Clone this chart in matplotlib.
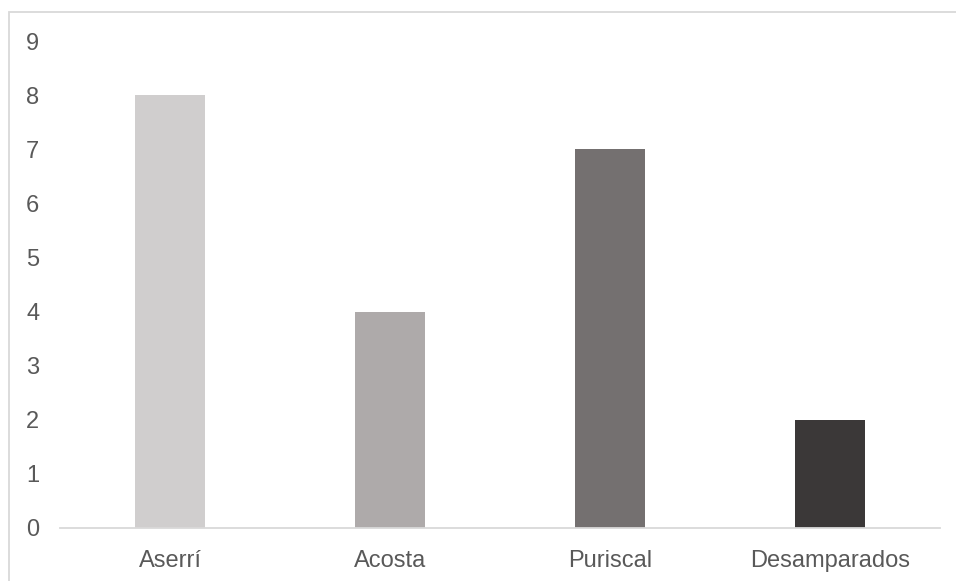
import matplotlib
matplotlib.use("Agg")
import matplotlib.pyplot as plt
from matplotlib.patches import Rectangle

categories = ["Aserrí", "Acosta", "Puriscal", "Desamparados"]
values = [8, 4, 7, 2]
colors = ["#D0CECE", "#AEAAAA", "#747070", "#3B3838"]
yticks = list(range(0, 10))

plt.rcParams['font.family'] = ['Liberation Sans', 'DejaVu Sans']

W, H = 956, 581
fig = plt.figure(figsize=(W / 100, H / 100), dpi=100)
fig.patch.set_facecolor("white")

# outer chart border (cropped at right/bottom)
fig.patches.append(Rectangle((8.5 / W, -0.05), 1.2, 1 - 11.5 / H + 0.05,
                             transform=fig.transFigure, fill=False,
                             edgecolor="#D9D9D9", linewidth=1.3))

ax = fig.add_axes([60 / W, 1 - 528 / H, 880 / W, (528 - 41) / H])
x = range(len(categories))
ax.bar(x, values, width=0.314, color=colors)
ax.set_xlim(-0.5, len(categories) - 0.5)
ax.set_ylim(0, 9)
ax.set_yticks(yticks)
ax.set_xticks(list(x))
ax.set_xticklabels(categories)
for s in ["top", "right", "left"]:
    ax.spines[s].set_visible(False)
ax.spines["bottom"].set_color("#D9D9D9")
ax.spines["bottom"].set_linewidth(1.3)
ax.tick_params(axis="both", length=0, labelsize=17, colors="#595959")
ax.tick_params(axis="y", pad=15)
ax.tick_params(axis="x", pad=16)

fig.savefig("out.png", dpi=100)
